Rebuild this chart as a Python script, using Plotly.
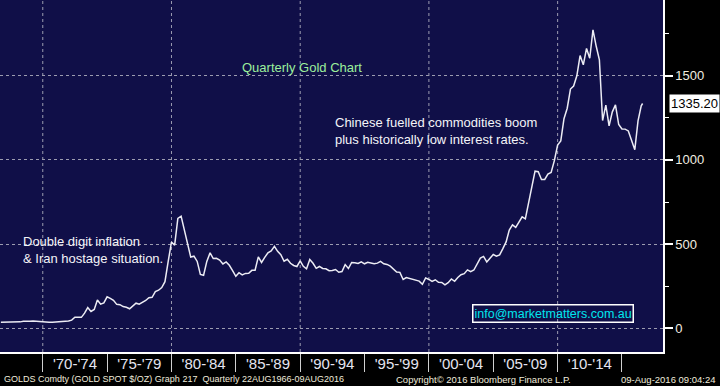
import pandas as pd
import plotly.graph_objects as go

# ---------------- data (quarterly gold spot, $/oz) ----------------
quarter_ends = pd.date_range("1966-09-30", periods=200, freq="QE")
last_date = pd.Timestamp("2016-08-09")
dates = list(quarter_ends) + [last_date]

gold = [
    35.2, 35.2,                      # 1966
    35.2, 35.2, 35.2, 35.2,          # 1967
    38.0, 41.0, 39.5, 41.9,          # 1968
    43.3, 41.3, 40.8, 35.2,          # 1969
    35.0, 35.5, 36.3, 37.4,          # 1970
    38.9, 40.1, 42.8, 43.6,          # 1971
    48.3, 65.1, 65.5, 64.9,          # 1972
    90.0, 123.0, 100.0, 112.0,       # 1973
    168.0, 143.0, 151.0, 187.0,      # 1974
    178.0, 166.0, 142.0, 140.0,      # 1975
    129.0, 125.0, 116.0, 135.0,      # 1976
    149.0, 143.0, 154.0, 165.0,      # 1977
    181.0, 184.0, 218.0, 226.0,      # 1978
    242.0, 277.0, 397.0, 512.0,      # 1979
    494.0, 653.0, 666.0, 590.0,      # 1980
    513.0, 423.0, 428.0, 397.0,      # 1981
    320.0, 315.0, 397.0, 448.0,      # 1982
    414.0, 416.0, 405.0, 382.0,      # 1983
    394.0, 374.0, 343.0, 309.0,      # 1984
    330.0, 317.0, 326.0, 327.0,      # 1985
    344.0, 345.0, 424.0, 391.0,      # 1986
    421.0, 448.0, 460.0, 487.0,      # 1987
    457.0, 437.0, 398.0, 410.0,      # 1988
    386.0, 373.0, 367.0, 401.0,      # 1989
    368.0, 353.0, 408.0, 386.0,      # 1990
    356.0, 367.0, 355.0, 353.0,      # 1991
    342.0, 343.0, 349.0, 333.0,      # 1992
    337.0, 378.0, 355.0, 391.0,      # 1993
    389.0, 385.0, 395.0, 383.0,      # 1994
    392.0, 387.0, 384.0, 387.0,      # 1995
    397.0, 383.0, 379.0, 369.0,      # 1996
    352.0, 334.0, 332.0, 290.0,      # 1997
    301.0, 296.0, 294.0, 288.0,      # 1998
    280.0, 261.0, 299.0, 290.0,      # 1999
    278.0, 288.0, 273.0, 272.0,      # 2000
    258.0, 271.0, 293.0, 279.0,      # 2001
    302.0, 318.0, 324.0, 347.0,      # 2002
    336.0, 346.0, 385.0, 417.0,      # 2003
    427.0, 394.0, 416.0, 438.0,      # 2004
    428.0, 436.0, 473.0, 513.0,      # 2005
    583.0, 614.0, 599.0, 632.0,      # 2006
    662.0, 650.0, 743.0, 834.0,      # 2007
    933.0, 930.0, 884.0, 884.0,      # 2008
    916.0, 926.0, 996.0, 1088.0,     # 2009
    1113.0, 1245.0, 1307.0, 1421.0,  # 2010
    1439.0, 1500.0, 1620.0, 1565.0,  # 2011
    1662.0, 1604.0, 1772.0, 1675.0,  # 2012
    1595.0, 1234.0, 1326.0, 1202.0,  # 2013
    1284.0, 1327.0, 1210.0, 1184.0,  # 2014
    1183.0, 1172.0, 1115.0, 1061.0,  # 2015
    1232.0, 1321.0,                  # 2016 H1
    1335.20,                         # 09-Aug-2016
]

band_starts = ["1970-01-01", "1975-01-01", "1980-01-01", "1985-01-01", "1990-01-01",
               "1995-01-01", "2000-01-01", "2005-01-01", "2010-01-01", "2015-01-01"]
band_centers = ["1972-07-02", "1977-07-02", "1982-07-02", "1987-07-02", "1992-07-02",
                "1997-07-02", "2002-07-02", "2007-07-02", "2012-07-02"]
band_labels = ["'70-'74", "'75-'79", "'80-'84", "'85-'89", "'90-'94",
               "'95-'99", "'00-'04", "'05-'09", "'10-'14"]
decade_grid = ["1970-01-01", "1980-01-01", "1990-01-01", "2000-01-01", "2010-01-01"]

y_ticks = [0, 500, 1000, 1500]
y_minor = [250, 750, 1250, 1750]

FONT = "Liberation Sans, Arial, sans-serif"
NAVY = "#100f48"
GRID = "#9c9cb0"

fig = go.Figure()
fig.add_trace(go.Scatter(
    x=dates, y=gold, mode="lines",
    line=dict(color="#ececf4", width=1.5),
    hoverinfo="skip", showlegend=False,
))

shapes = []
for d in decade_grid:
    shapes.append(dict(type="line", xref="x", yref="paper", x0=d, x1=d, y0=0, y1=1,
                       line=dict(color=GRID, width=1, dash="3px,3px"), layer="below"))

annotations = [
    dict(text="Quarterly Gold Chart", xref="paper", yref="paper", x=0.455, y=0.807,
         xanchor="center", yanchor="middle",
         showarrow=False, font=dict(family=FONT, size=13, color="#9cf09c")),
    dict(text="Chinese fuelled commodities boom<br>plus historically low interest rates.",
         xref="paper", yref="paper", x=0.503, y=0.628, xanchor="left", yanchor="middle",
         align="left", showarrow=False, font=dict(family=FONT, size=13, color="#f4f4f8")),
    dict(text="Double digit inflation<br>&amp; Iran hostage situation.",
         xref="paper", yref="paper", x=0.032, y=0.291, xanchor="left", yanchor="middle",
         align="left", showarrow=False, font=dict(family=FONT, size=13, color="#f4f4f8")),
    dict(text="info@marketmatters.com.au", xref="paper", yref="paper", x=0.834, y=0.109,
         xanchor="center", yanchor="middle", showarrow=False,
         bordercolor="#ffffff", borderwidth=1.5, borderpad=1,
         font=dict(family=FONT, size=12.5, color="#00e6ee")),
    dict(text="1335.20", xref="paper", yref="y", x=1.0, y=gold[-1], xanchor="left",
         yanchor="middle", xshift=6, showarrow=False, bgcolor="#ffffff", borderpad=1,
         font=dict(family=FONT, size=13, color="#000000")),
    dict(text="GOLDS Comdty (GOLD SPOT $/OZ) Graph 217&nbsp;&nbsp;Quarterly 22AUG1966-09AUG2016",
         xref="paper", yref="paper", x=0.003, y=-0.077, xanchor="left", yanchor="middle",
         showarrow=False, font=dict(family=FONT, size=9, color="#f0ecdc")),
    dict(text="Copyright© 2016 Bloomberg Finance L.P.",
         xref="paper", yref="paper", x=0.729, y=-0.077, xanchor="center", yanchor="middle",
         showarrow=False, font=dict(family=FONT, size=9.5, color="#f0ecdc")),
    dict(text="09-Aug-2016 09:04:24",
         xref="paper", yref="paper", x=1.083, y=-0.077, xanchor="right", yanchor="middle",
         showarrow=False, font=dict(family=FONT, size=9.5, color="#f0ecdc")),
]

fig.update_layout(
    width=720, height=386,
    margin=dict(l=0, r=57, t=0, b=34),
    paper_bgcolor="#000000", plot_bgcolor=NAVY,
    font=dict(family=FONT, color="#f0f0f0"),
    shapes=shapes, annotations=annotations,
    xaxis=dict(
        type="date", range=["1966-09-05", "2018-03-10"],
        tickmode="array", tickvals=band_centers, ticktext=band_labels,
        ticks="", showgrid=False, zeroline=False,
        showline=True, linecolor="#ffffff", linewidth=1.5,
        ticklabelstandoff=-3,
        tickfont=dict(family=FONT, size=15, color="#e4e4f0"),
        minor=dict(tickmode="array", tickvals=band_starts, ticks="outside",
                   ticklen=18, tickwidth=1, tickcolor="#d0d0d0", showgrid=False),
        fixedrange=True,
    ),
    yaxis=dict(
        side="right", range=[-141, 1950],
        tickmode="array", tickvals=y_ticks, ticktext=[str(v) for v in y_ticks],
        ticks="outside", ticklen=8, tickwidth=2, tickcolor="#ffffff",
        showgrid=True, gridcolor=GRID, gridwidth=1, griddash="3px,3px",
        zeroline=False, showline=True, linecolor="#ffffff", linewidth=1.5,
        tickfont=dict(family=FONT, size=13, color="#f2eee0"),
        minor=dict(tickmode="array", tickvals=y_minor, ticks="outside",
                   ticklen=4, tickwidth=1, tickcolor="#ffffff", showgrid=False),
        fixedrange=True,
    ),
)

fig.write_html(
    "out.html",
    config={"displayModeBar": False},
    post_script="document.body.style.margin='0';document.body.style.overflow='hidden';",
)
